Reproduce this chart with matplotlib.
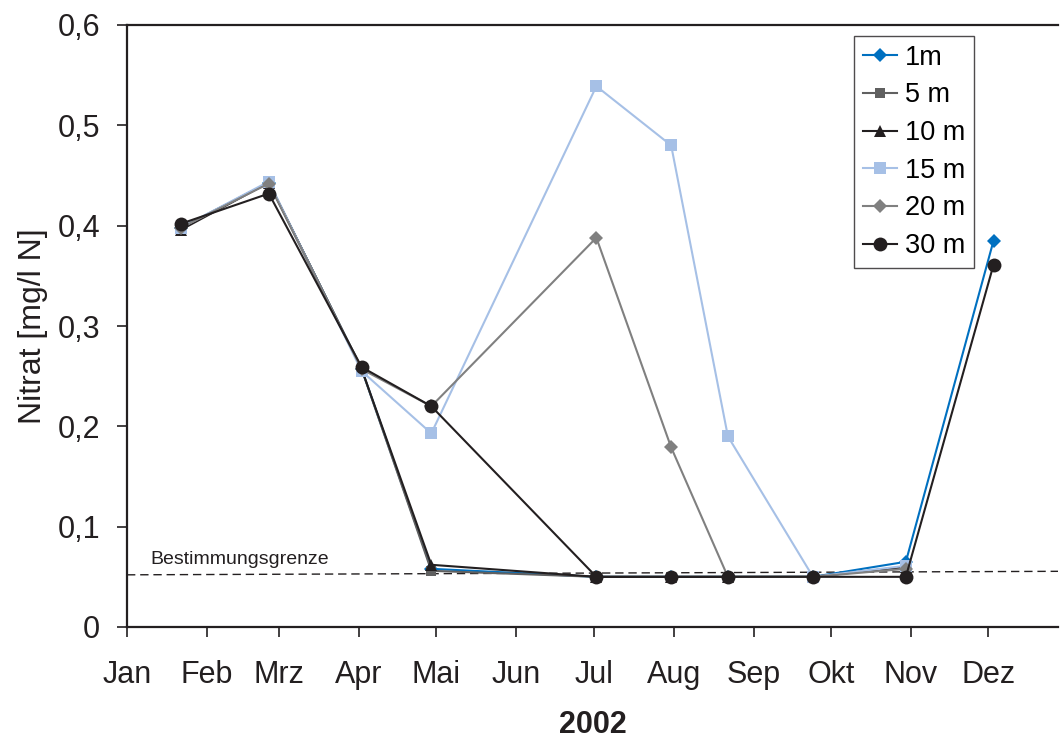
import matplotlib
matplotlib.use("Agg")
import matplotlib.pyplot as plt
import numpy as np
from datetime import datetime

plt.rcParams['font.family'] = ['Liberation Sans', 'DejaVu Sans']

# --- data ---
dates = ["2002-01-22", "2002-02-25", "2002-04-02", "2002-04-29", "2002-07-02",
         "2002-07-31", "2002-08-22", "2002-09-24", "2002-10-30", "2002-12-03"]
nan = np.nan
v_1m  = [0.398, 0.443, 0.257, 0.058, 0.050, 0.050, 0.050, 0.050, 0.065, 0.385]
v_5m  = [0.398, 0.443, 0.257, 0.056, 0.050, 0.050, 0.050, 0.050, 0.060, nan]
v_10m = [0.396, 0.443, 0.257, 0.062, 0.050, 0.050, 0.050, 0.050, 0.060, nan]
v_15m = [0.398, 0.444, 0.255, 0.193, 0.539, 0.480, 0.190, 0.050, 0.061, nan]
v_20m = [0.398, 0.442, 0.257, 0.220, 0.388, 0.179, 0.050, 0.050, 0.058, nan]
v_30m = [0.402, 0.432, 0.259, 0.220, 0.050, 0.050, 0.050, 0.050, 0.050, 0.361]

labels = ["1m", "5 m", "10 m", "15 m", "20 m", "30 m"]
month_labels = ["Jan", "Feb", "Mrz", "Apr", "Mai", "Jun", "Jul", "Aug", "Sep", "Okt", "Nov", "Dez"]

limit_dates = ["2002-01-01", "2002-12-28"]
limit_vals = [0.052, 0.0555]
limit_label = "Bestimmungsgrenze"

# --- plotting ---
x = [datetime.strptime(d, "%Y-%m-%d") for d in dates]
xl = [datetime.strptime(d, "%Y-%m-%d") for d in limit_dates]

fig = plt.figure(figsize=(10.61, 7.40), dpi=100)
ax = fig.add_axes([127/1061, 1-627/740, (1058-127)/1061, (627-25)/740])

ink = '#231F20'
styles = [
    dict(color='#0070C0', marker='D', ms=7),
    dict(color='#606060', marker='s', ms=7.5),
    dict(color=ink, marker='^', ms=9),
    dict(color='#A6C0E6', marker='s', ms=8.5),
    dict(color='#808080', marker='D', ms=7),
    dict(color=ink, marker='o', ms=10),
]
series = [v_1m, v_5m, v_10m, v_15m, v_20m, v_30m]
for vals, lab, st in zip(series, labels, styles):
    ax.plot(x, vals, label=lab, lw=1.5, markeredgewidth=0, **st)

ax.plot(xl, limit_vals, ls=(0, (6, 3.5)), color=ink, lw=1.0, zorder=1)
ax.text(datetime(2002, 1, 10), 0.063, limit_label, fontsize=14, color=ink)

ax.set_ylim(0, 0.6)
ax.set_xlim(xl[0], xl[1])
ax.set_yticks(np.arange(0, 0.61, 0.1))
ax.set_yticklabels(["0"] + [f"{v:.1f}".replace(".", ",") for v in np.arange(0.1, 0.61, 0.1)])
ax.set_xticks([datetime(2002, m, 1) for m in range(1, 13)])
ax.set_xticklabels(month_labels)

for s in ['left', 'bottom', 'top']:
    ax.spines[s].set_color(ink)
    ax.spines[s].set_linewidth(1.6)
ax.spines['right'].set_visible(False)
ax.tick_params(axis='both', direction='out', length=7, width=1.2, color=ink,
               labelsize=22, labelcolor=ink)
ax.tick_params(axis='y', pad=12.5)
ax.tick_params(axis='x', pad=17)

ax.set_ylabel("Nitrat [mg/l N]", fontsize=23, color=ink, labelpad=7)
ax.set_xlabel("2002", fontsize=22, fontweight='bold', color=ink, labelpad=14)

leg = ax.legend(loc='upper left', bbox_to_anchor=(0.781, 0.982), fontsize=19.5,
                frameon=True, fancybox=False, edgecolor=ink, handlelength=1.25,
                handletextpad=0.3, labelspacing=0.43, borderpad=0.33, borderaxespad=0)
leg.get_frame().set_linewidth(1.0)

fig.savefig("out.png", dpi=100)
